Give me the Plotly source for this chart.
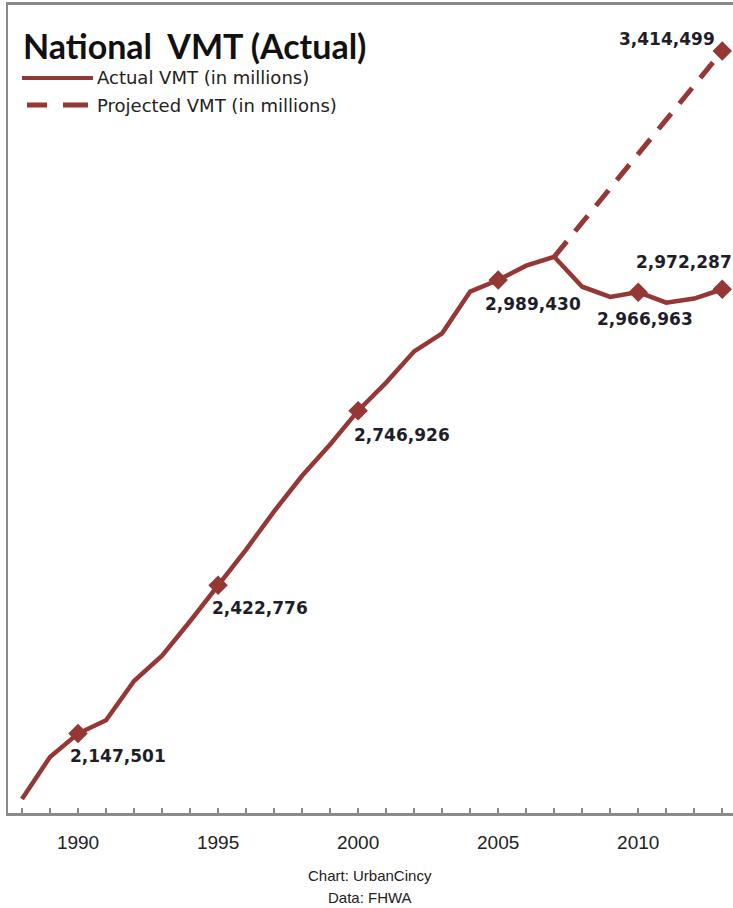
import plotly.graph_objects as go

# ---------------- data ----------------
years = list(range(1988, 2014))
actual_vmt = [2025962, 2104000, 2147501, 2172050, 2245000, 2292000, 2356000,
              2422776, 2489000, 2560000, 2626000, 2684000, 2746926, 2799000,
              2857000, 2890500, 2968000, 2989430, 3016000, 3032500, 2977000,
              2958000, 2966963, 2947500, 2955000, 2972287]
proj_years = [2007, 2013]
proj_vmt = [3032500, 3414499]

label_years_actual = [1990, 1995, 2000, 2005, 2010, 2013]
label_years_proj = [2013]

tick_years = years
tick_text = [str(y) if y % 5 == 0 else "" for y in years]

title_text = "National  VMT (Actual)"
legend_names = ["Actual VMT (in millions)", "Projected VMT (in millions)"]
source_lines = ["Chart: UrbanCincy", "Data: FHWA"]

# ---------------- styling ----------------
W, H = 733, 908
ML, MT, MB, MR = 8, 5, 95, 0
PW, PH = W - ML - MR, H - MT - MB
RED = "#953735"
GRAY = "#8a8a8a"
TXT = "#1e1e2a"


def px_x(x):
    return (x - ML) / PW


def px_y(y):
    return (H - MB - y) / PH


fig = go.Figure()

fig.add_trace(go.Scatter(
    x=years, y=actual_vmt, mode="lines", name=legend_names[0],
    line=dict(color=RED, width=4.5), showlegend=False, hoverinfo="x+y"))

fig.add_trace(go.Scatter(
    x=proj_years, y=proj_vmt, mode="lines", name=legend_names[1],
    line=dict(color=RED, width=5, dash="20px,13px"), showlegend=False))

mk_x = label_years_actual
mk_y = [actual_vmt[years.index(y)] for y in label_years_actual]
fig.add_trace(go.Scatter(
    x=mk_x, y=mk_y, mode="markers", showlegend=False,
    marker=dict(symbol="diamond", size=15, color=RED)))
fig.add_trace(go.Scatter(
    x=label_years_proj, y=[proj_vmt[-1]], mode="markers", showlegend=False,
    marker=dict(symbol="diamond", size=15, color=RED)))

# value labels (offsets in pixels from their point)
offsets = {1990: (-10, -22, "left"), 1995: (-8, -23, "left"),
           2000: (-6, -24, "left"), 2005: (-15, -24, "left"),
           2010: (-43, -27, "left"), 2013: (-88, 27, "left")}
annotations = []
for yr, v in zip(mk_x, mk_y):
    dx, dy, anc = offsets[yr]
    annotations.append(dict(
        x=yr, y=v, xref="x", yref="y", text=f"{v:,}", showarrow=False,
        xanchor=anc, yanchor="middle", xshift=dx, yshift=dy,
        font=dict(family="DejaVu Sans", size=17, color=TXT, weight="bold")))
annotations.append(dict(
    x=proj_years[-1], y=proj_vmt[-1], xref="x", yref="y",
    text=f"{proj_vmt[-1]:,}", showarrow=False, xanchor="right",
    yanchor="middle", xshift=-5, yshift=12,
    font=dict(family="DejaVu Sans", size=17, color=TXT, weight="bold")))

# title
annotations.append(dict(
    x=px_x(21), y=px_y(45), xref="paper", yref="paper", text=title_text,
    showarrow=False, xanchor="left", yanchor="middle",
    font=dict(family="Lato", size=34, color="#111111", weight="bold")))

# legend texts
for i, name in enumerate(legend_names):
    annotations.append(dict(
        x=px_x(95), y=px_y(78 + 27 * i), xref="paper", yref="paper",
        text=name, showarrow=False, xanchor="left", yanchor="middle",
        font=dict(family="DejaVu Sans", size=18, color="#222222")))

# source lines
for i, s in enumerate(source_lines):
    annotations.append(dict(
        x=px_x(370), y=px_y(875 + 22 * i), xref="paper", yref="paper",
        text=s, showarrow=False, xanchor="center", yanchor="middle",
        font=dict(family="Liberation Sans Narrow, Liberation Sans", size=15,
                  color="#222222")))

shapes = [
    dict(type="line", xref="paper", yref="paper", x0=px_x(22), x1=px_x(93),
         y0=px_y(78), y1=px_y(78), line=dict(color=RED, width=4)),
    dict(type="line", xref="paper", yref="paper", x0=px_x(27), x1=px_x(47),
         y0=px_y(105), y1=px_y(105), line=dict(color=RED, width=5)),
    dict(type="line", xref="paper", yref="paper", x0=px_x(63), x1=px_x(88),
         y0=px_y(105), y1=px_y(105), line=dict(color=RED, width=5)),
]

fig.update_layout(
    width=W, height=H,
    margin=dict(l=ML, r=MR, t=MT, b=MB, pad=0),
    paper_bgcolor="white", plot_bgcolor="white",
    showlegend=False,
    annotations=annotations, shapes=shapes,
    xaxis=dict(range=[1987.5, 1987.5 + PW / 28.01], tickmode="array",
               tickvals=tick_years, ticktext=tick_text, ticks="inside",
               ticklen=5, tickwidth=1.5, tickcolor=GRAY, showgrid=False,
               zeroline=False, showline=True, linecolor=GRAY, linewidth=2.5,
               mirror=True, ticklabelstandoff=10,
               tickfont=dict(family="Liberation Sans Narrow, Liberation Sans",
                             size=19, color="#222222")),
    yaxis=dict(range=[2000000, 3500000], showgrid=False, zeroline=False,
               showticklabels=False, ticks="", showline=True,
               linecolor=GRAY, linewidth=2),
)

fig.write_html("out.html")
